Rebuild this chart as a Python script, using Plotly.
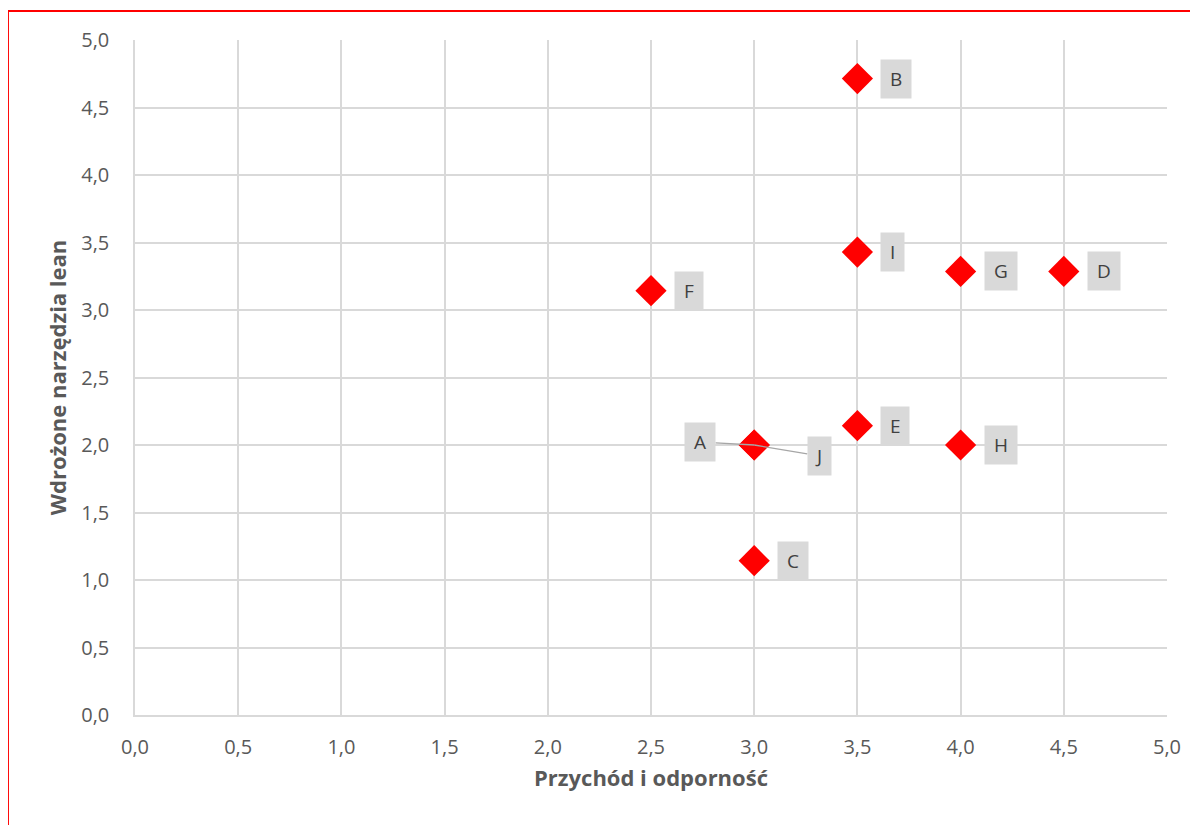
import plotly.graph_objects as go

# Data
labels = ["A", "B", "C", "D", "E", "F", "G", "H", "I", "J"]
przychod = [3.0, 3.5, 3.0, 4.5, 3.5, 2.5, 4.0, 4.0, 3.5, 3.0]
lean = [2.0, 4.714, 1.143, 3.286, 2.143, 3.143, 3.286, 2.0, 3.429, 2.0]
tick_vals = [0, 0.5, 1, 1.5, 2, 2.5, 3, 3.5, 4, 4.5, 5]

x_title = "Przychód i odporność"
y_title = "Wdrożone narzędzia lean"

FONT = "Open Sans"
GRID = "#D9D9D9"
TXT = "#595959"

fig = go.Figure()
fig.add_trace(go.Scatter(
    x=przychod, y=lean, mode="markers",
    marker=dict(symbol="diamond", size=24, color="#FF0000", line=dict(width=0)),
    hoverinfo="text", text=labels, showlegend=False,
))

# Data labels (grey boxes)
NB = "\u00a0"
leader = {"A": (-54, -3), "J": (65, 11)}
for lab, xv, yv in zip(labels, przychod, lean):
    common = dict(x=xv, y=yv, xref="x", yref="y", text=NB + lab + NB,
                  font=dict(family=FONT, size=19, color="#404040"),
                  bgcolor="#D9D9D9", borderpad=4, height=30)
    if lab in leader:
        ax, ay = leader[lab]
        fig.add_annotation(**common, showarrow=True, arrowhead=0, arrowwidth=1.3,
                           arrowcolor="#A6A6A6", ax=ax, ay=ay, standoff=0)
    else:
        fig.add_annotation(**common, showarrow=False, xanchor="left", xshift=23)

axis_common = dict(
    range=[0, 5], tickvals=tick_vals, tickformat=".1f",
    showgrid=True, gridcolor=GRID, gridwidth=1.5,
    showline=True, linecolor=GRID, linewidth=1.5, mirror=False,
    zeroline=False, ticks="",
    tickfont=dict(family=FONT, size=20, color=TXT),
)

fig.update_xaxes(**axis_common, ticklabelstandoff=13,
                 title=dict(text=x_title, standoff=12,
                            font=dict(family=FONT, size=22, color=TXT, weight="bold")))
fig.update_yaxes(**axis_common, ticklabelstandoff=20,
                 title=dict(text=y_title, standoff=9,
                            font=dict(family=FONT, size=22, color=TXT, weight="bold")))

# Red frame (partially visible, top and left edges)
fig.add_shape(type="line", xref="paper", yref="paper",
              x0=-0.1231, x1=1.1, y0=1.043, y1=1.043,
              line=dict(color="#FF0000", width=2))
fig.add_shape(type="line", xref="paper", yref="paper",
              x0=-0.1231, x1=-0.1231, y0=-0.2, y1=1.043,
              line=dict(color="#FF0000", width=2))

fig.update_layout(
    width=1190, height=817,
    margin=dict(l=127, r=31, t=32, b=110),
    plot_bgcolor="white", paper_bgcolor="white",
    separators=", ",
    font=dict(family=FONT, color=TXT),
)

fig.write_html("out.html")
